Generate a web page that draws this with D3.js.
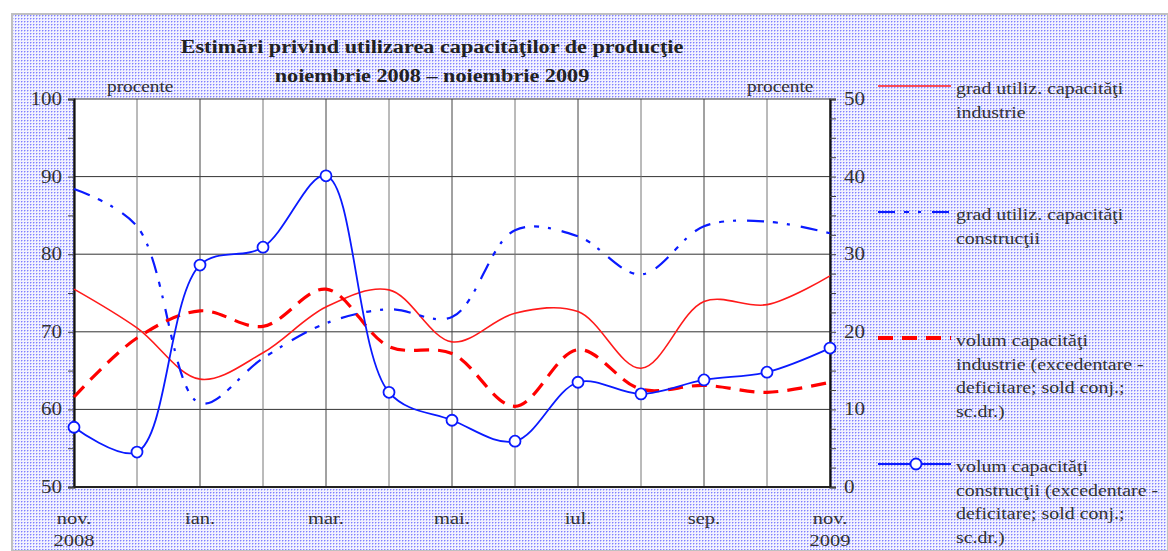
<!DOCTYPE html>
<html>
<head>
<meta charset="utf-8">
<script src="https://cdn.jsdelivr.net/npm/d3@7"></script>
<style>
  html, body { margin: 0; padding: 0; background: #fff; }
  svg { display: block; font-family: "Liberation Serif", "Times New Roman", serif; }
</style>
</head>
<body>
<div id="chart"></div>
<script>
// Monthly points, nov. 2008 - nov. 2009
const months = ['nov.', 'dec.', 'ian.', 'feb.', 'mar.', 'apr.', 'mai.', 'iun.', 'iul.', 'aug.', 'sep.', 'oct.', 'nov.'];
const monthLabels = ['nov.', '', 'ian.', '', 'mar.', '', 'mai.', '', 'iul.', '', 'sep.', '', 'nov.'];
const yearLabels = ['2008', '', '', '', '', '', '', '', '', '', '', '', '2009'];

// left axis (procente)
const gradIndustrie = [75.5, 70.5, 63.9, 67.3, 73.2, 75.4, 68.7, 72.4, 72.6, 65.3, 73.9, 73.5, 77.2];
const gradConstructii = [88.4, 83.6, 60.8, 66.6, 71.1, 72.9, 71.9, 83.1, 82.3, 77.4, 83.6, 84.2, 82.7];
// right axis (sold conjunctural)
const volumIndustrie = [11.6, 19.2, 22.7, 20.7, 25.5, 18.1, 17.2, 10.4, 17.7, 12.6, 13.1, 12.2, 13.5];
const volumConstructii = [7.7, 4.5, 28.6, 30.9, 40.1, 12.2, 8.6, 5.9, 13.5, 12.0, 13.8, 14.8, 17.9];

const leftTicks = [50, 60, 70, 80, 90, 100];
const rightTicks = [0, 10, 20, 30, 40, 50];

const titleLines = ['Estimări privind utilizarea capacităţilor de producţie', 'noiembrie 2008 – noiembrie 2009'];
const legendItems = [
    { lines: ['grad utiliz. capacităţi', 'industrie'], key: 'gi' },
    { lines: ['grad utiliz. capacităţi', 'construcţii'], key: 'gc' },
    { lines: ['volum capacităţi', 'industrie (excedentare -', 'deficitare; sold conj.;', 'sc.dr.)'], key: 'vi' },
    { lines: ['volum capacităţi', 'construcţii (excedentare -', 'deficitare; sold conj.;', 'sc.dr.)'], key: 'vc' }
];

const W = 1168, H = 551;
const plot = { left: 74, right: 830, top: 99, bottom: 487 };
const textColor = '#333';
const stretch = 1.17; // the original text is a bit wider than Times

const styles = {
    gi: { color: '#ff1a1a', width: 1.6, dash: null },
    gc: { color: '#0a1aff', width: 2.2, dash: '17,9,5,9,3,11' },
    vi: { color: '#ff0000', width: 3.2, dash: '15,9' },
    vc: { color: '#0a1aff', width: 1.8, dash: null, marker: true }
};

const svg = d3.select('#chart').append('svg')
    .attr('width', W)
    .attr('height', H);

// horizontally stretched text, anchored at (x, y)
function addText(parent, x, y, str, size, anchor = 'start', weight = 'normal', color = textColor) {
    return parent.append('text')
        .attr('transform', `translate(${x},${y}) scale(${stretch},1)`)
        .attr('text-anchor', anchor)
        .attr('fill', color)
        .style('font-size', size + 'px')
        .style('font-weight', weight)
        .text(str);
}

// dotted background pattern
const defs = svg.append('defs');
const pat = defs.append('pattern')
    .attr('id', 'dots')
    .attr('patternUnits', 'userSpaceOnUse')
    .attr('width', 3).attr('height', 3);
pat.append('rect').attr('width', 3).attr('height', 3).attr('fill', '#f2f2ff');
pat.append('rect').attr('x', 0).attr('y', 0).attr('width', 1).attr('height', 1).attr('fill', '#8080ff');
pat.append('rect').attr('x', 1).attr('y', 0).attr('width', 1).attr('height', 1).attr('fill', '#c0c0ff');
pat.append('rect').attr('x', 0).attr('y', 1).attr('width', 1).attr('height', 1).attr('fill', '#c0c0ff');

svg.append('rect')
    .attr('x', 12).attr('y', 14)
    .attr('width', W - 12).attr('height', H - 14)
    .attr('fill', 'url(#dots)')
    .attr('stroke', '#c0c0c0')
    .attr('stroke-width', 2);

// scales
const x = d3.scaleLinear().domain([0, months.length - 1]).range([plot.left, plot.right]);
const yL = d3.scaleLinear().domain([50, 100]).range([plot.bottom, plot.top]);
const yR = d3.scaleLinear().domain([0, 50]).range([plot.bottom, plot.top]);

// plot area
svg.append('rect')
    .attr('x', plot.left).attr('y', plot.top)
    .attr('width', plot.right - plot.left).attr('height', plot.bottom - plot.top)
    .attr('fill', '#fff');

// grid
const grid = svg.append('g');
grid.selectAll('.hgrid')
    .data(leftTicks.slice(1, -1))
    .enter().append('line')
    .attr('x1', plot.left).attr('x2', plot.right)
    .attr('y1', d => yL(d)).attr('y2', d => yL(d))
    .attr('stroke', '#333').attr('stroke-width', 1);
grid.selectAll('.vgrid')
    .data(d3.range(1, months.length - 1))
    .enter().append('line')
    .attr('x1', d => x(d)).attr('x2', d => x(d))
    .attr('y1', plot.top).attr('y2', plot.bottom)
    .attr('stroke', d => d % 2 ? '#777' : '#444').attr('stroke-width', 1);

svg.append('rect')
    .attr('x', plot.left).attr('y', plot.top)
    .attr('width', plot.right - plot.left).attr('height', plot.bottom - plot.top)
    .attr('fill', 'none').attr('stroke', '#333').attr('stroke-width', 1);

// axes (labels are drawn separately so they can be stretched)
const leftAxis = d3.axisLeft(yL)
    .tickValues(d3.range(50, 101, 5))
    .tickSize(6)
    .tickFormat('');
const rightAxis = d3.axisRight(yR)
    .tickValues(d3.range(0, 51, 2.5))
    .tickSize(6)
    .tickFormat('');

function styleAxis(g) {
    g.select('.domain').attr('stroke', '#111').attr('stroke-width', 2.2);
    g.selectAll('.tick line').attr('stroke', '#444');
}

svg.append('g').attr('transform', `translate(${plot.left},0)`).call(leftAxis).call(styleAxis);
svg.append('g').attr('transform', `translate(${plot.right},0)`).call(rightAxis).call(styleAxis);

const tickLabels = svg.append('g');
leftTicks.forEach(d => addText(tickLabels, 62, yL(d) + 6, d, 18, 'end'));
rightTicks.forEach(d => addText(tickLabels, 844, yR(d) + 6, d, 18, 'start'));

// bottom axis line
svg.append('line')
    .attr('x1', plot.left).attr('x2', plot.right)
    .attr('y1', plot.bottom).attr('y2', plot.bottom)
    .attr('stroke', '#222').attr('stroke-width', 2);

// x labels
const xl = svg.append('g');
monthLabels.forEach((d, i) => { if (d) addText(xl, x(i), 524, d, 17.5, 'middle'); });
yearLabels.forEach((d, i) => { if (d) addText(xl, x(i), 546, d, 17.5, 'middle'); });

// unit labels
addText(svg, 107, 92, 'procente', 16.5);
addText(svg, 747, 92, 'procente', 16.5);

// title
const title = svg.append('g');
titleLines.forEach((d, i) => addText(title, 432, 53 + i * 29, d, 19, 'middle', 'bold', '#222'));

// series
const series = [
    { key: 'gi', values: gradIndustrie, y: yL },
    { key: 'gc', values: gradConstructii, y: yL },
    { key: 'vi', values: volumIndustrie, y: yR },
    { key: 'vc', values: volumConstructii, y: yR }
];

const lines = svg.append('g');
series.forEach(s => {
    const st = styles[s.key];
    const line = d3.line()
        .x((d, i) => x(i))
        .y(d => s.y(d))
        .curve(d3.curveCatmullRom.alpha(0.5));
    lines.append('path')
        .datum(s.values)
        .attr('d', line)
        .attr('fill', 'none')
        .attr('stroke', st.color)
        .attr('stroke-width', st.width)
        .attr('stroke-dasharray', st.dash)
        .attr('stroke-linejoin', 'round');
    if (st.marker) {
        lines.selectAll('.mk-' + s.key)
            .data(s.values)
            .enter().append('circle')
            .attr('cx', (d, i) => x(i))
            .attr('cy', d => s.y(d))
            .attr('r', 5.5)
            .attr('fill', '#fff')
            .attr('stroke', st.color)
            .attr('stroke-width', 1.8);
    }
});

// legend
const legend = svg.append('g');
legendItems.forEach((item, k) => {
    const st = styles[item.key];
    const y0 = 86 + k * 126;
    const g = legend.append('g');
    g.append('line')
        .attr('x1', 878).attr('x2', 951)
        .attr('y1', y0).attr('y2', y0)
        .attr('stroke', st.color)
        .attr('stroke-width', item.key === 'vi' ? 4 : st.width)
        .attr('stroke-dasharray', st.dash);
    if (st.marker) {
        g.append('circle').attr('cx', 916).attr('cy', y0).attr('r', 5.5)
            .attr('fill', '#fff').attr('stroke', st.color).attr('stroke-width', 1.8);
    }
    item.lines.forEach((d, i) => addText(g, 956, y0 + 8 + i * 23.5, d, 17));
});
</script>
</body>
</html>
